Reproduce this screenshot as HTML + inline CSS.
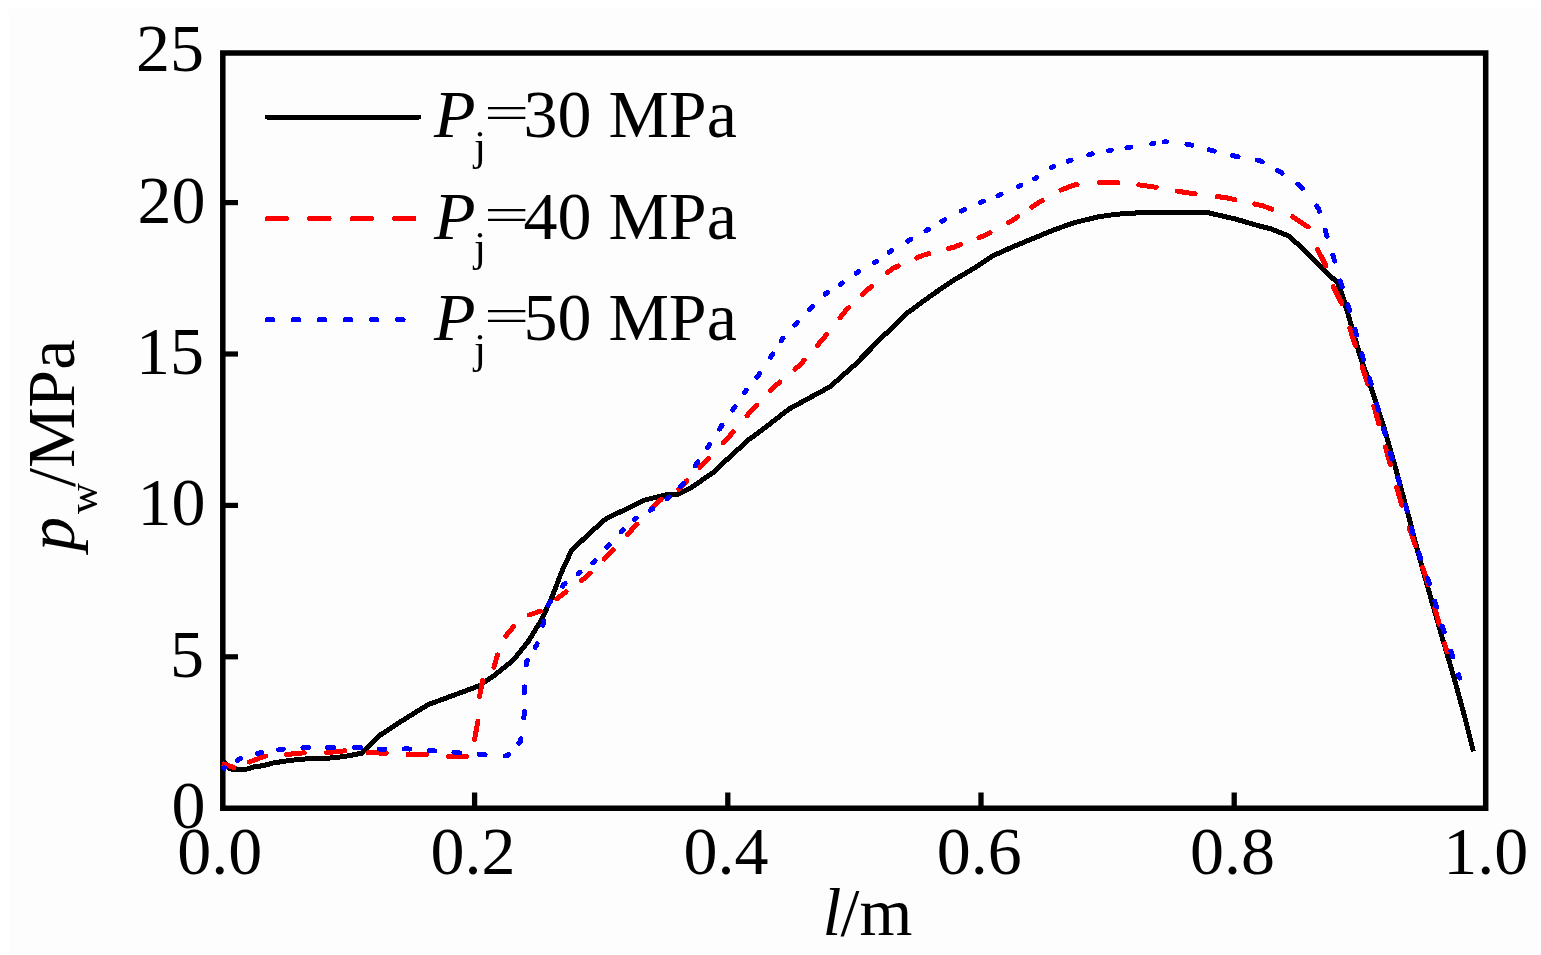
<!DOCTYPE html>
<html><head><meta charset="utf-8"><title>p_w vs l</title>
<style>
html,body{margin:0;padding:0;background:#fff;}
body{width:1541px;height:955px;overflow:hidden;}
svg{display:block;}
.t{font-family:"Liberation Serif","Times New Roman",serif;font-size:68px;fill:#000;}
.i{font-style:italic;}
.s{font-size:43px;}
</style></head><body>
<svg width="1541" height="955" viewBox="0 0 1541 955">
<rect x="0" y="0" width="1541" height="955" fill="#fff"/><rect x="9" y="9" width="1532" height="946" fill="#fdfdfd"/>
<path d="M222.8 52.9 H1485.7 V808.3 H222.8 Z" fill="none" stroke="#000" stroke-width="5.5" stroke-linejoin="miter"/>
<line x1="474.6" y1="806" x2="474.6" y2="792.5" stroke="#000" stroke-width="5.3"/>
<line x1="727.8" y1="806" x2="727.8" y2="792.5" stroke="#000" stroke-width="5.3"/>
<line x1="981.0" y1="806" x2="981.0" y2="792.5" stroke="#000" stroke-width="5.3"/>
<line x1="1234.2" y1="806" x2="1234.2" y2="792.5" stroke="#000" stroke-width="5.3"/>
<line x1="224" y1="656.8" x2="238" y2="656.8" stroke="#000" stroke-width="5.2"/>
<line x1="224" y1="505.4" x2="238" y2="505.4" stroke="#000" stroke-width="5.2"/>
<line x1="224" y1="354.0" x2="238" y2="354.0" stroke="#000" stroke-width="5.2"/>
<line x1="224" y1="202.6" x2="238" y2="202.6" stroke="#000" stroke-width="5.2"/>
<polyline points="222.0,760.0 230.0,769.0 246.0,769.3 253.7,767.0 262.8,765.7 273.2,763.0 286.2,761.0 300.5,759.2 333.0,757.9 347.2,756.0 361.5,753.3 381.0,734.5 407.0,717.6 428.3,704.6 456.5,694.2 479.2,685.8 494.2,675.4 513.1,660.3 528.2,641.5 541.3,620.2 552.6,595.7 561.1,573.1 571.5,550.5 590.3,532.6 606.3,518.4 624.3,510.0 643.1,500.5 665.7,494.9 677.0,494.9 690.2,488.3 713.2,472.5 730.2,456.5 749.0,439.5 767.9,425.4 788.6,409.3 809.3,398.0 830.1,386.7 854.6,365.0 882.9,336.5 907.4,312.9 931.9,295.0 952.7,280.8 973.4,268.6 993.2,255.7 1012.0,247.2 1034.7,237.8 1055.4,229.3 1074.3,222.7 1096.9,217.1 1115.7,214.3 1140.2,212.7 1208.1,212.7 1235.4,219.0 1254.3,224.6 1270.0,228.6 1289.3,236.2 1303.5,249.6 1320.3,266.3 1337.8,283.1 1342.0,294.0 1347.7,313.0 1359.9,355.3 1372.2,390.7 1384.4,428.8 1395.3,467.0 1408.9,517.4 1418.1,552.8 1431.3,599.7 1443.2,641.0 1453.8,677.0 1464.5,716.0 1473.4,751.4" fill="none" stroke="#000" stroke-width="5" stroke-linejoin="round" shape-rendering="crispEdges"/>
<path d="M249.3 762.0 L249.9 761.8 L265.4 756.0 L265.5 756.0 M286.3 754.5 L304.3 752.8 M326.5 752.7 L344.9 750.8 M367.8 752.7 L386.3 753.2 M408.1 754.5 L426.6 754.5 M448.4 756.4 L466.4 756.4 M474.6 739.5 L477.9 721.3 M479.5 696.6 L482.6 680.5 M494.0 667.1 L497.4 655.0 M505.7 636.1 L513.5 626.6 M529.2 615.0 L540.5 611.1 M556.9 598.7 L562.0 594.8 L566.0 591.9 M581.5 580.5 L586.5 576.9 L590.2 573.2 M604.4 559.0 L609.2 554.2 L613.3 549.7 M627.4 534.5 L631.8 529.7 L637.0 524.1 M651.4 508.3 L652.5 507.1 L661.3 499.3 M678.7 489.3 L678.9 489.2 L686.7 480.8 M699.8 467.4 L705.3 461.9 L708.7 458.3 M723.2 442.9 L728.3 437.6 L733.1 432.0 M747.1 415.6 L750.9 411.2 L756.7 405.2 M770.6 390.8 L775.4 385.8 L779.8 382.0 M795.0 369.2 L799.9 365.0 L804.1 360.3 M817.5 345.2 L822.5 339.6 L826.4 334.7 M840.0 317.7 L845.1 311.3 L848.7 307.8 M862.4 294.6 L866.9 290.3 L871.6 286.3 M887.5 272.8 L892.4 268.6 L898.3 266.0 M916.7 258.0 L922.5 255.4 L928.6 253.8 M948.6 248.5 L954.6 246.9 L960.4 244.7 M979.0 237.7 L984.7 235.6 L990.0 232.7 M1008.3 222.8 L1012.0 220.8 L1017.6 216.9 M1031.8 207.2 L1036.5 203.9 L1042.2 200.6 M1061.0 190.0 L1074.3 185.0 L1077.1 184.7 M1099.6 182.8 L1117.8 182.8 M1138.7 184.8 L1140.2 185.0 L1156.2 187.3 M1177.0 191.0 L1185.4 192.6 L1195.1 193.8 M1217.1 196.6 L1226.0 197.7 L1234.8 199.6 M1254.7 204.0 L1262.7 205.8 L1271.9 209.1 M1292.7 216.7 L1308.1 226.9 M1317.6 249.3 L1325.9 265.8 M1333.3 286.7 L1341.6 303.2 M1349.7 327.9 L1355.3 345.5 M1362.1 366.5 L1367.7 384.1 M1373.9 406.1 L1378.9 423.9 M1385.4 446.9 L1390.4 464.7 M1396.8 487.5 L1401.8 505.3 M1409.3 528.0 L1415.2 545.5 M1422.5 567.3 L1428.3 584.8 M1434.8 607.9 L1439.5 624.9 M1444.7 643.8 L1447.0 652.0" fill="none" stroke="#f00" stroke-width="5" stroke-linecap="round" stroke-linejoin="round" shape-rendering="crispEdges"/>
<path d="M237.2 760.6 L238.7 759.3 L240.6 758.7 M257.6 753.6 L259.5 753.0 L261.5 752.7 M278.6 749.8 L281.0 749.4 L283.4 749.2 M302.9 747.7 L305.7 747.5 L308.5 747.5 M327.3 747.5 L330.3 747.5 L333.3 747.5 M354.6 747.5 L357.6 747.5 L360.6 747.7 M379.4 749.2 L382.2 749.4 L385.0 749.3 M404.0 749.0 L407.5 748.9 L409.8 749.1 M429.1 750.6 L432.0 750.8 L434.9 751.0 M454.0 752.4 L457.5 752.7 L459.8 752.9 M479.2 754.3 L482.0 754.5 L485.2 754.7 M505.1 755.9 L507.4 756.0 L508.8 754.4 M519.0 743.0 L520.6 741.3 L520.9 738.8 M523.8 717.8 L524.4 713.0 L524.4 711.8 M524.4 692.9 L524.4 688.6 L524.5 686.9 M526.1 665.1 L526.3 662.2 L527.3 660.5 M535.2 647.4 L536.6 645.2 L537.0 643.9 M542.7 625.3 L543.2 623.6 L543.9 621.2 M548.2 605.2 L548.5 604.2 L550.5 601.7 M562.5 586.2 L563.9 584.4 L565.1 583.5 M578.1 573.8 L579.0 573.1 L580.0 572.3 M592.8 562.8 L594.1 561.8 L595.0 560.8 M606.9 547.3 L608.2 545.8 L609.3 544.7 M621.3 531.9 L622.4 530.7 L623.1 530.0 M634.5 519.4 L635.6 518.4 L636.1 518.1 M650.4 510.2 L652.5 509.0 L652.8 508.8 M667.0 498.6 L669.2 497.0 M680.5 486.6 L682.7 484.5 L683.4 483.5 M695.1 465.9 L695.9 464.7 L697.9 461.8 M707.4 447.8 L708.5 446.1 L709.6 444.4 M719.5 429.1 L720.7 427.2 L722.0 425.3 M732.8 410.0 L733.9 408.4 L735.0 406.8 M744.3 392.8 L745.2 391.4 L746.3 390.1 M757.0 377.0 L758.4 375.4 L759.6 373.6 M770.5 357.2 L771.6 355.6 L772.6 354.0 M781.1 340.9 L782.0 339.6 L783.0 338.4 M794.8 325.0 L796.1 323.6 L797.4 322.2 M809.5 309.3 L811.2 307.5 L812.2 306.5 M825.4 294.1 L826.4 293.1 L827.6 292.4 M840.5 284.3 L841.5 283.7 L842.4 283.0 M856.2 273.3 L857.5 272.4 L858.8 271.6 M874.2 262.7 L875.4 262.0 L876.5 261.2 M889.2 252.2 L890.5 251.3 L891.8 250.5 M907.7 241.2 L909.3 240.3 L910.9 239.4 M926.0 230.7 L927.2 230.0 L928.4 229.3 M941.9 221.3 L943.3 220.5 L944.8 219.7 M961.4 211.1 L963.1 210.2 L964.8 209.4 M980.6 202.3 L981.9 201.7 L983.3 201.2 M998.0 195.5 L1000.7 194.5 L1001.1 194.3 M1018.3 186.6 L1019.6 186.0 L1020.9 185.4 M1034.5 178.9 L1035.6 178.4 L1036.6 177.7 M1051.5 167.8 L1052.6 167.1 L1053.8 166.6 M1068.1 161.1 L1069.5 160.5 L1071.0 160.1 M1088.8 154.7 L1090.3 154.3 L1092.2 153.9 M1108.6 150.8 L1110.1 150.5 L1111.3 150.3 M1126.8 147.7 L1128.9 147.3 L1130.7 147.0 M1151.7 143.7 L1152.5 143.6 L1153.9 143.4 M1164.3 141.9 L1165.7 141.7 L1166.5 141.8 M1186.9 144.2 L1189.2 144.5 L1191.8 145.2 M1209.3 149.8 L1211.8 150.5 L1214.3 151.1 M1232.7 155.5 L1235.4 156.2 L1238.1 156.7 M1257.4 160.1 L1259.9 160.5 L1262.1 161.8 M1277.6 170.3 L1280.0 171.7 L1282.0 173.1 M1297.9 184.3 L1300.2 185.9 L1302.2 188.4 M1316.6 206.1 L1318.6 208.5 L1319.4 211.2 M1325.2 230.3 L1326.1 233.3 L1327.0 236.1 M1332.9 255.2 L1333.7 257.9 L1334.6 261.0 M1340.4 281.0 L1341.2 283.9 L1342.1 286.8 M1347.9 304.9 L1349.0 308.5 L1349.6 310.6 M1355.0 329.3 L1355.8 332.2 L1356.6 335.1 M1361.8 353.8 L1362.6 356.7 L1363.5 359.6 M1369.4 378.3 L1370.3 381.2 L1371.1 384.1 M1376.8 404.2 L1377.6 407.1 L1378.4 410.0 M1383.6 428.7 L1384.4 431.6 L1385.2 434.5 M1390.4 453.2 L1391.2 456.1 L1392.1 459.0 M1397.7 477.7 L1398.6 480.6 L1399.4 483.5 M1405.4 504.9 L1406.2 507.8 L1407.0 510.7 M1411.6 528.0 L1412.3 530.8 L1413.1 533.5 M1418.8 552.8 L1419.6 555.7 L1420.6 558.5 M1427.4 577.9 L1428.4 580.7 L1429.3 583.6 M1434.8 601.3 L1435.7 604.1 L1436.5 606.9 M1442.2 626.2 L1443.1 629.1 L1444.1 631.9 M1450.9 651.2 L1451.9 654.0 L1452.8 656.9 M1458.5 674.8 L1459.5 678.0" fill="none" stroke="#00f" stroke-width="5" stroke-linecap="round" stroke-linejoin="round" shape-rendering="crispEdges"/>
<polyline points="222,763.5 235,768 236,768.3" fill="none" stroke="#f00" stroke-width="5" shape-rendering="crispEdges"/>
<polyline points="222,766.5 226.5,769.5" fill="none" stroke="#00f" stroke-width="5" shape-rendering="crispEdges"/>
<line x1="267.1" y1="117" x2="418.8" y2="117" stroke="#000" stroke-width="5" stroke-linecap="round" shape-rendering="crispEdges"/>
<line x1="267.1" y1="218.6" x2="414" y2="218.6" stroke="#f00" stroke-width="5" stroke-dasharray="19.5 23" stroke-linecap="round" shape-rendering="crispEdges"/>
<line x1="267.1" y1="319.8" x2="403.1" y2="319.8" stroke="#00f" stroke-width="5" stroke-dasharray="5.5 20.6" stroke-linecap="round" shape-rendering="crispEdges"/>
<text x="434" y="137.4" class="t i">P</text><text x="474" y="159.9" class="t s">j</text><text transform="translate(483.9,128.1) scale(1.18,0.667)" class="t">=</text><text x="523.4" y="137.4" class="t">30 MPa</text>
<text x="434" y="238.8" class="t i">P</text><text x="474" y="261.3" class="t s">j</text><text transform="translate(483.9,229.5) scale(1.18,0.667)" class="t">=</text><text x="523.4" y="238.8" class="t">40 MPa</text>
<text x="434" y="340.2" class="t i">P</text><text x="474" y="362.7" class="t s">j</text><text transform="translate(483.9,330.9) scale(1.18,0.667)" class="t">=</text><text x="523.4" y="340.2" class="t">50 MPa</text>
<text x="205.5" y="828.2" class="t" text-anchor="end">0</text>
<text x="204" y="676.8" class="t" text-anchor="end">5</text>
<text x="205.5" y="525.4" class="t" text-anchor="end">10</text>
<text x="204" y="374.0" class="t" text-anchor="end">15</text>
<text x="205.5" y="222.6" class="t" text-anchor="end">20</text>
<text x="204" y="71.2" class="t" text-anchor="end">25</text>
<text x="219.7" y="874" class="t" text-anchor="middle">0.0</text>
<text x="472.9" y="874" class="t" text-anchor="middle">0.2</text>
<text x="726.1" y="874" class="t" text-anchor="middle">0.4</text>
<text x="979.3" y="874" class="t" text-anchor="middle">0.6</text>
<text x="1232.5" y="874" class="t" text-anchor="middle">0.8</text>
<text x="1485.7" y="874" class="t" text-anchor="middle">1.0</text>
<text x="822.5" y="934.5" class="t i">l</text><text x="840.5" y="934.5" class="t">/m</text>
<text transform="translate(74,551) rotate(-90)" class="t i">p</text><text transform="translate(97,514) rotate(-90)" class="t s">w</text><text transform="translate(74,487) rotate(-90)" class="t">/MPa</text>
</svg>
</body></html>
